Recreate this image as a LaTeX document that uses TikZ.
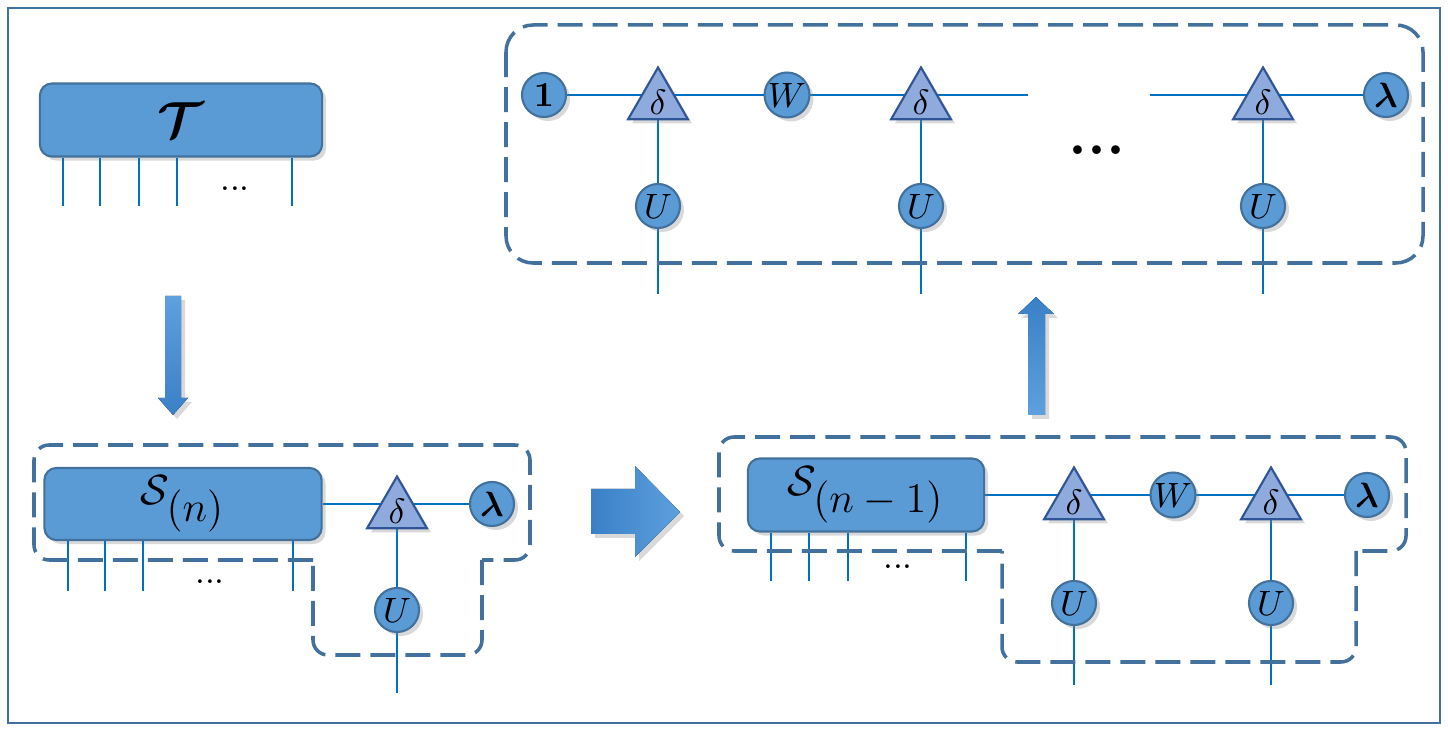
\documentclass[tikz,border=0pt]{standalone}
\usepackage{amssymb}
\usepackage{amsmath}
\usepackage{tikz}
\usetikzlibrary{shapes.geometric,shadows,backgrounds}
\definecolor{boxblue}{HTML}{5B9BD5}
\definecolor{edgeblue}{HTML}{41719C}
\definecolor{wireblue}{HTML}{0070C0}
\definecolor{trifill}{HTML}{8FAADC}
\definecolor{triedge}{HTML}{2F5597}
\definecolor{arrowA}{HTML}{3A80C6}
\definecolor{arrowB}{HTML}{5DA0DE}
\tikzset{
  shade/.style={drop shadow={shadow xshift=0.04cm,shadow yshift=-0.04cm,opacity=0.3}},
  wire/.style={wireblue, line width=0.6pt},
  tensor/.style={rectangle, rounded corners=0.12cm, draw=edgeblue, line width=0.6pt,
    fill=boxblue, inner sep=0pt, shade},
  ball/.style={circle, draw=edgeblue, line width=0.6pt, fill=boxblue,
    minimum size=0.44cm, inner sep=0pt, shade},
  delta/.style={regular polygon, regular polygon sides=3, draw=triedge, line width=0.6pt,
    fill=trifill, minimum size=0.58cm, inner sep=0pt, shade},
  group/.style={edgeblue, line width=1pt, dash pattern=on 0.25cm off 0.1cm, rounded corners=0.15cm},
  blockarrow/.style={shade}
}

\begin{document}
\begin{tikzpicture}[x=0.01cm,y=-0.01cm]
  \useasboundingbox (0,0) rectangle (1448,731);
  \draw[edgeblue, line width=0.8pt] (8,8) rectangle (1440,723);
  % Tensor T and its legs
  \node[tensor, minimum width=2.82cm, minimum height=0.73cm] (T) at (181,120) {\Large$\boldsymbol{\mathcal{T}}$};
  \foreach \lx [count=\i] in {63,100,139,177,292} {
    \coordinate (tl\i) at (\lx,206);
    \draw[wire] (T.south -| tl\i) -- (tl\i); }
  \node (tdots) at (235,189) {...};
  % Down arrow
  \fill[blockarrow, top color=arrowB, bottom color=arrowA] (165,296) -- (181,296) -- (181,398)
    -- (188,398) -- (173,415) -- (158,398) -- (165,398) -- cycle;
  % Left group with S_(n)
  \node[tensor, minimum width=2.77cm, minimum height=0.72cm] (Sn) at (183,504) {\large$\mathcal{S}_{\textstyle(n)}$};
  \foreach \lx [count=\i] in {68,105,143,293} {
    \coordinate (sl\i) at (\lx,591);
    \draw[wire] (Sn.south -| sl\i) -- (sl\i); }
  \node (sdots) at (210,582) {...};
  \node[delta] (dN) at (397,511) {$\delta$};
  \node[ball] (lamN) at (492,504) {$\boldsymbol{\lambda}$};
  \node[ball] (uN) at (397,610) {$U$};
  \coordinate (legN) at (397,693);
  \begin{scope}[on background layer]
    \draw[wire] (Sn.east) -- (lamN.center);
    \draw[wire] (dN.center) -- (legN);
  \end{scope}
  \draw[group] (313,560) -- (34,560) -- (34,445) -- (530,445) -- (530,560) -- (482,560);
  \draw[group] (482,560) -- (482,655) -- (313,655) -- (313,560);
  % Right arrow
  \fill[blockarrow, left color=arrowA, right color=arrowB] (591,489) -- (635,489) -- (635,466)
    -- (680,512) -- (635,557) -- (635,534) -- (591,534) -- cycle;
  % Right group with S_(n-1)
  \node[tensor, minimum width=2.36cm, minimum height=0.73cm] (Sm) at (866,495) {\large$\mathcal{S}_{\textstyle(n-1)}$};
  \foreach \lx [count=\i] in {771,809,848,966} {
    \coordinate (ml\i) at (\lx,581);
    \draw[wire] (Sm.south -| ml\i) -- (ml\i); }
  \node (mdots) at (898,567) {...};
  \node[delta] (dM1) at (1074,502) {$\delta$};
  \node[ball] (wM) at (1173,495) {$W$};
  \node[delta] (dM2) at (1271,502) {$\delta$};
  \node[ball] (lamM) at (1367,495) {$\boldsymbol{\lambda}$};
  \node[ball] (uM1) at (1074,603) {$U$};
  \node[ball] (uM2) at (1271,603) {$U$};
  \coordinate (legM1) at (1074,685);
  \coordinate (legM2) at (1271,685);
  \begin{scope}[on background layer]
    \draw[wire] (Sm.east) -- (lamM.center);
    \draw[wire] (dM1.center) -- (legM1);
    \draw[wire] (dM2.center) -- (legM2);
  \end{scope}
  \draw[group] (1002,551) -- (719,551) -- (719,437) -- (1406,437) -- (1406,551) -- (1356,551);
  \draw[group] (1356,551) -- (1356,662) -- (1002,662) -- (1002,551);
  % Up arrow
  \fill[blockarrow, top color=arrowA, bottom color=arrowB] (1028,415) -- (1045,415) -- (1045,314)
    -- (1054,314) -- (1036,297) -- (1018,314) -- (1028,314) -- cycle;
  % Top group: the full chain
  \node[ball] (one) at (544,95) {$\mathbf{1}$};
  \node[delta] (tA) at (658,102) {$\delta$};
  \node[ball] (wT) at (787,95) {$W$};
  \node[delta] (tB) at (921,102) {$\delta$};
  \node[delta] (tC) at (1263,102) {$\delta$};
  \node[ball] (lamT) at (1386,95) {$\boldsymbol{\lambda}$};
  \coordinate (gapL) at (1028,95);
  \coordinate (gapR) at (1150,95);
  \foreach \name/\ux in {uA/658,uB/921,uC/1263} {
    \node[ball] (\name) at (\ux,206) {$U$};
    \coordinate (\name leg) at (\ux,294); }
  \node (bigdots) at (1097,150) {\LARGE\bfseries ...};
  \begin{scope}[on background layer]
    \draw[wire] (one.center) -- (gapL);
    \draw[wire] (gapR) -- (lamT.center);
    \draw[wire] (tA.center) -- (uAleg);
    \draw[wire] (tB.center) -- (uBleg);
    \draw[wire] (tC.center) -- (uCleg);
  \end{scope}
  \draw[group, rounded corners=0.27cm] (506,25) rectangle (1423,263);
\end{tikzpicture}
\end{document}
